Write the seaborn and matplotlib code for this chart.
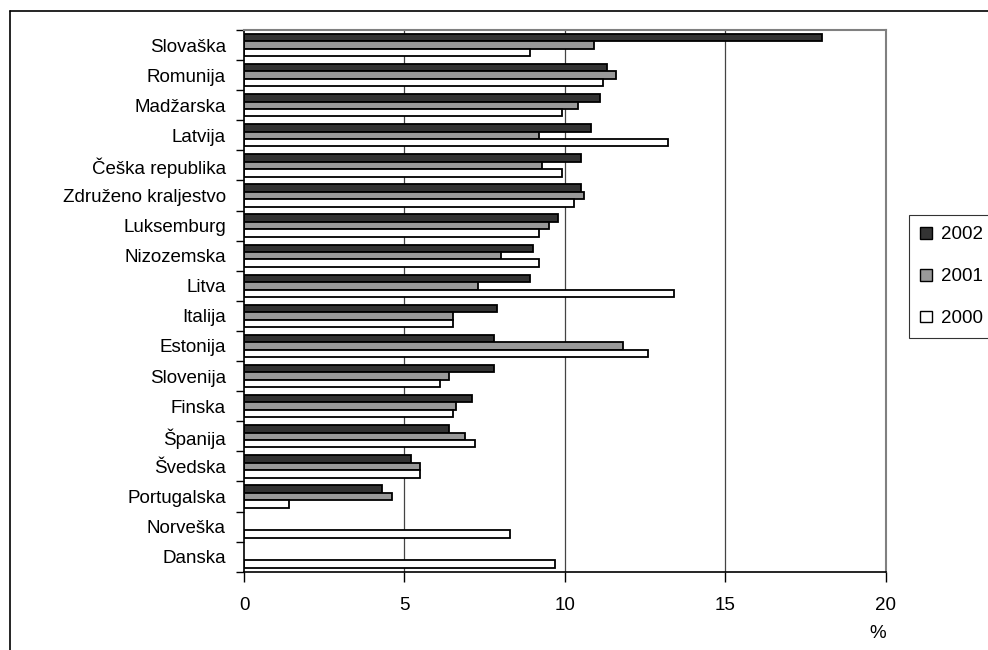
# plot.py
# Horizontal grouped bar chart, three years per country,
# recreated with seaborn and saved as out.png

# import required packages
import numpy as np
import pandas as pd
import matplotlib.pyplot as plt
import seaborn as sns
from matplotlib.patches import Patch
from matplotlib.lines import Line2D


# data
countries = ["Slovaška", "Romunija", "Madžarska", "Latvija", "Češka republika",
             "Združeno kraljestvo", "Luksemburg", "Nizozemska", "Litva", "Italija",
             "Estonija", "Slovenija", "Finska", "Španija", "Švedska",
             "Portugalska", "Norveška", "Danska"]
years = ["2002", "2001", "2000"]
v2002 = [18.0, 11.3, 11.1, 10.8, 10.5, 10.5, 9.8, 9.0, 8.9, 7.9,
         7.8, 7.8, 7.1, 6.4, 5.2, 4.3, np.nan, np.nan]
v2001 = [10.9, 11.6, 10.4, 9.2, 9.3, 10.6, 9.5, 8.0, 7.3, 6.5,
         11.8, 6.4, 6.6, 6.9, 5.5, 4.6, np.nan, np.nan]
v2000 = [8.9, 11.2, 9.9, 13.2, 9.9, 10.3, 9.2, 9.2, 13.4, 6.5,
         12.6, 6.1, 6.5, 7.2, 5.5, 1.4, 8.3, 9.7]
x_ticks = [0, 5, 10, 15, 20]

# colours of the series
colors = ["#333333", "#999999", "#ffffff"]

# build long table for seaborn
data = pd.DataFrame({
    "country": countries * 3,
    "year": [years[0]] * len(countries) + [years[1]] * len(countries) + [years[2]] * len(countries),
    "value": v2002 + v2001 + v2000,
})
data = data.dropna()

# style and fonts (set font after set_theme)
sns.set_theme(style="white")
plt.rcParams["font.family"] = ["Liberation Sans", "DejaVu Sans"]
plt.rcParams["text.color"] = "black"
plt.rcParams["xtick.color"] = "black"
plt.rcParams["ytick.color"] = "black"
plt.rcParams["xtick.labelcolor"] = "black"
plt.rcParams["ytick.labelcolor"] = "black"
FS = 13.5

fig = plt.figure(figsize=(9.88, 6.5), dpi=100)
ax = fig.add_axes([244 / 988, 1 - 571.7 / 650, (885.7 - 244) / 988, (571.7 - 30) / 650])

# vertical gridlines behind the bars
for xv in x_ticks[1:-1]:
    ax.axvline(xv, color="#444444", linewidth=0.9, zorder=0)

sns.barplot(data=data, x="value", y="country", hue="year", order=countries,
            hue_order=years, palette=colors, saturation=1, orient="h",
            width=0.74, edgecolor="black", linewidth=1.3, errorbar=None,
            legend=False, ax=ax)

# axes limits and ticks
ax.set_xlim(0, 20)
ax.set_ylim(len(countries) - 0.5, -0.5)
ax.set_xticks(x_ticks)
ax.set_xticklabels([str(t) for t in x_ticks], fontsize=FS)
ax.tick_params(axis="x", direction="out", length=7, width=1, color="black", pad=11, bottom=True)

# category ticks between groups, labels at group centres
ax.set_yticks(np.arange(-0.5, len(countries), 1))
ax.set_yticklabels([])
ax.set_yticks(np.arange(len(countries)), minor=True)
ax.set_yticklabels(countries, minor=True, fontsize=FS)
ax.tick_params(axis="y", which="major", direction="out", length=6, width=1, color="black", left=True)
ax.tick_params(axis="y", which="minor", length=0, pad=13)
ax.set_xlabel("")
ax.set_ylabel("")

# spines
for side in ["left", "bottom"]:
    ax.spines[side].set_color("black")
    ax.spines[side].set_linewidth(1.2)
for side in ["top", "right"]:
    ax.spines[side].set_color("#808080")
    ax.spines[side].set_linewidth(1.5)

# unit label under the axis
fig.text(878 / 988, 1 - 633 / 650, "%", ha="center", va="center", fontsize=FS)

# legend on the right, partly outside the picture
handles = [Patch(facecolor=c, edgecolor="black", linewidth=1) for c in colors]
leg = fig.legend(handles, years, loc="upper left", bbox_to_anchor=(909 / 988, 1 - 215 / 650),
                 bbox_transform=fig.transFigure, fontsize=FS, frameon=True, fancybox=False,
                 shadow=False, borderaxespad=0, handlelength=0.6, handleheight=0.6,
                 handletextpad=0.5, labelspacing=1.33, borderpad=0.6)
leg.get_frame().set_edgecolor("black")
leg.get_frame().set_linewidth(0.8)

# outer chart frame (left and top edges)
fig.add_artist(Line2D([10 / 988, 10 / 988], [0, 1 - 11 / 650], color="black", linewidth=1.2))
fig.add_artist(Line2D([10 / 988, 1], [1 - 11 / 650, 1 - 11 / 650], color="black", linewidth=1.2))

# save figure
plt.savefig("out.png", dpi=100)
plt.close()
